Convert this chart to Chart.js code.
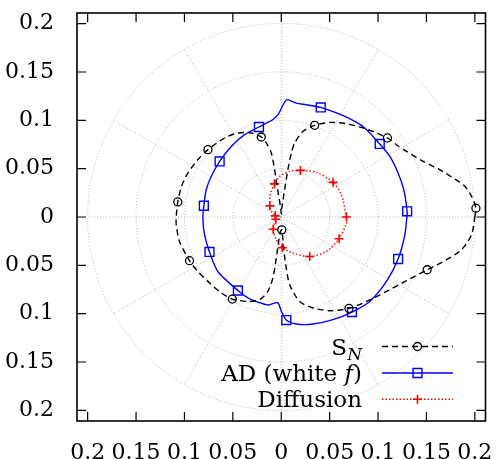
<!DOCTYPE html>
<html>
<head>
<meta charset="utf-8">
<script src="https://cdn.jsdelivr.net/npm/chart.js@4/dist/chart.umd.min.js"></script>
<style>
  html, body { margin: 0; padding: 0; background: #fff; }
  canvas { display: block; }
</style>
</head>
<body>
<canvas id="chart" width="500" height="459"></canvas>
<script>
// angular profiles: angle in degrees, radius in axis units
const snTheta  = [0, 2.6, 6.2, 9.5, 12.8, 16.6, 21.4, 27.7, 32.1, 36.7, 41.4, 47.5, 55.1, 62.9, 70.0, 75.8, 79.7, 81.1, 82.0, 83.0, 86.5, 90.0, 93.5, 97.4, 98.0, 98.8, 101.4, 104.0, 109.6, 117.3, 125.6, 137.4, 145.5, 154.8, 162.9, 171.7, 179.7, 184.2, 193.5, 205.5, 213.1, 221.3, 231.7, 239.2, 248.5, 255.4, 259.8, 262.2, 263.1, 263.9, 267.0, 272.6, 274.5, 275.3, 277.1, 282.3, 289.2, 297.3, 306.5, 315.2, 324.7, 333.0, 340.1, 345.5, 349.7, 354.7, 360];
const snRadius = [0.2000, 0.2013, 0.1978, 0.1923, 0.1821, 0.1710, 0.1575, 0.1461, 0.1406, 0.1368, 0.1313, 0.1250, 0.1177, 0.1099, 0.1009, 0.0913, 0.0778, 0.0670, 0.0494, 0.0284, 0.0090, 0.0030, 0.0090, 0.0285, 0.0494, 0.0670, 0.0781, 0.0853, 0.0922, 0.0978, 0.1005, 0.1029, 0.1046, 0.1067, 0.1078, 0.1080, 0.1085, 0.1088, 0.1081, 0.1050, 0.1029, 0.1009, 0.1001, 0.0988, 0.0939, 0.0884, 0.0782, 0.0637, 0.0427, 0.0254, 0.0150, 0.0133, 0.0322, 0.0495, 0.0706, 0.0894, 0.0997, 0.1091, 0.1176, 0.1240, 0.1332, 0.1452, 0.1603, 0.1764, 0.1893, 0.1975, 0.2000];
const snMarks  = [2.6, 36.7, 70.0, 104.0, 137.4, 171.7, 205.5, 239.2, 272.6, 306.5, 340.1];

const adTheta  = [0, 2.6, 12.6, 20.7, 29.2, 36.6, 46.9, 54.2, 62.1, 70.2, 77.4, 82.5, 87.2, 89.3, 91.8, 95.5, 99.0, 103.9, 114.0, 125.3, 137.9, 149.9, 160.0, 171.7, 180.7, 193.0, 206.0, 220.7, 239.5, 250.1, 260.4, 262.0, 267.6, 270.1, 272.8, 278.0, 286.5, 296.7, 306.6, 316.3, 328.5, 340.2, 351.8, 360];
const adRadius = [0.1298, 0.1302, 0.1297, 0.1290, 0.1285, 0.1267, 0.1262, 0.1241, 0.1218, 0.1205, 0.1190, 0.1188, 0.1215, 0.1150, 0.1059, 0.1005, 0.0984, 0.0959, 0.0932, 0.0894, 0.0858, 0.0836, 0.0825, 0.0808, 0.0810, 0.0813, 0.0825, 0.0864, 0.0882, 0.0910, 0.0920, 0.0919, 0.0887, 0.0977, 0.1067, 0.1118, 0.1155, 0.1189, 0.1225, 0.1264, 0.1275, 0.1283, 0.1290, 0.1298];
const adMarks  = [2.6, 36.6, 70.2, 103.9, 137.9, 171.7, 206.0, 239.5, 272.8, 306.6, 340.2];

const dfTheta  = [0, 20.4, 33.8, 51.8, 67.7, 79.6, 92.3, 101.5, 116.0, 135.7, 150.4, 169.0, 186.0, 203.0, 222.0, 237.0, 257.7, 272.0, 288.0, 305.8, 322.7, 339.4, 354.7, 360];
const dfRadius = [0.0673, 0.0663, 0.0644, 0.0587, 0.0521, 0.0480, 0.0420, 0.0350, 0.0257, 0.0165, 0.0118, 0.0063, 0.0060, 0.0061, 0.0092, 0.0152, 0.0240, 0.0318, 0.0392, 0.0503, 0.0587, 0.0638, 0.0676, 0.0673];
const dfMarks  = [0, 33.8, 67.7, 101.5, 135.7, 169.0, 203.0, 237.0, 272.0, 305.8, 339.4];

// polar grid and axis ticks
const gridRadii = [0.05, 0.1, 0.15, 0.2];
const spokeAngles = [0, 30, 60, 90, 120, 150, 180, 210, 240, 270, 300, 330];
const axisTicks = [-0.2, -0.15, -0.1, -0.05, 0, 0.05, 0.1, 0.15, 0.2];

const FONT = "'DejaVu Serif', serif";
Chart.defaults.font.family = FONT;
Chart.defaults.color = '#000';

function toXY(theta, radius) {
  return theta.map((t, i) => ({
    x: radius[i] * Math.cos(t * Math.PI / 180),
    y: radius[i] * Math.sin(t * Math.PI / 180)
  }));
}
function markSizes(theta, marks, size) {
  return theta.map(t => marks.includes(t) ? size : 0);
}
// fixed axis boxes, no extra room for overhanging labels
function fixBox(s, size) {
  if (s.isHorizontal()) s.height = size; else s.width = size;
  s.paddingTop = s.paddingBottom = s.paddingLeft = s.paddingRight = 0;
}

const polarGrid = {
  id: 'polarGrid',
  beforeDatasetsDraw(chart) {
    const {ctx, scales: {x, y}} = chart;
    const cx = x.getPixelForValue(0), cy = y.getPixelForValue(0);
    const k = x.getPixelForValue(1) - cx;
    const rMax = gridRadii[gridRadii.length - 1] * k;
    ctx.save();
    ctx.strokeStyle = '#b4b4b4';
    ctx.lineWidth = 1;
    ctx.setLineDash([1, 2]);
    gridRadii.forEach(r => {
      ctx.beginPath();
      ctx.arc(cx, cy, r * k, 0, Math.PI * 2);
      ctx.stroke();
    });
    spokeAngles.forEach(a => {
      const rad = a * Math.PI / 180;
      ctx.beginPath();
      ctx.moveTo(cx, cy);
      ctx.lineTo(cx + rMax * Math.cos(rad), cy - rMax * Math.sin(rad));
      ctx.stroke();
    });
    ctx.restore();
  }
};

const frameTicks = {
  id: 'frameTicks',
  afterDatasetsDraw(chart) {
    const {ctx, chartArea: a, scales: {x, y}} = chart;
    const len = 9;
    ctx.save();
    ctx.strokeStyle = '#000';
    ctx.lineWidth = 1.6;
    ctx.strokeRect(a.left, a.top, a.right - a.left, a.bottom - a.top);
    ctx.lineWidth = 1.2;
    ctx.beginPath();
    axisTicks.forEach(v => {
      const px = x.getPixelForValue(v), py = y.getPixelForValue(v);
      ctx.moveTo(px, a.bottom); ctx.lineTo(px, a.bottom - len);
      ctx.moveTo(px, a.top); ctx.lineTo(px, a.top + len);
      ctx.moveTo(a.left, py); ctx.lineTo(a.left + len, py);
      ctx.moveTo(a.right, py); ctx.lineTo(a.right - len, py);
    });
    ctx.stroke();
    ctx.restore();
  }
};

// legend in the lower right corner, with sub/italic parts in the labels
const keyBox = {
  id: 'keyBox',
  afterDraw(chart) {
    const {ctx} = chart;
    const textRight = 362, x0 = 382, x1 = 453, xm = 417.5;
    const rows = [346.5, 373, 399.3];
    chart.data.datasets.forEach((ds, i) => {
      const yy = rows[i];
      ctx.save();
      let xr = textRight;
      const parts = ds.labelParts.slice().reverse();
      ctx.fillStyle = '#000';
      ctx.textAlign = 'right';
      ctx.textBaseline = 'alphabetic';
      parts.forEach(p => {
        const size = p.sub ? 17 : 23;
        ctx.font = (p.italic ? 'italic ' : '') + size + 'px ' + FONT;
        ctx.fillText(p.t, xr, yy + 8 + (p.sub ? 5 : 0));
        xr -= ctx.measureText(p.t).width;
      });
      // sample line and marker
      ctx.strokeStyle = ds.borderColor;
      ctx.fillStyle = 'rgba(0,0,0,0)';
      ctx.lineWidth = ds.borderWidth;
      ctx.setLineDash(ds.borderDash || []);
      ctx.beginPath();
      ctx.moveTo(x0, yy);
      ctx.lineTo(x1, yy);
      ctx.stroke();
      ctx.setLineDash([]);
      ctx.lineWidth = ds.pointBorderWidth;
      Chart.helpers.drawPoint(ctx, {
        pointStyle: ds.pointStyle,
        radius: ds.keyRadius,
        rotation: 0,
        borderWidth: ds.pointBorderWidth
      }, xm, yy);
      ctx.restore();
    });
  }
};

new Chart(document.getElementById('chart'), {
  type: 'scatter',
  data: {
    datasets: [
      {
        label: 'S_N',
        labelParts: [{t: 'S'}, {t: 'N', italic: true, sub: true}],
        data: toXY(snTheta, snRadius),
        showLine: true,
        borderColor: '#000',
        borderWidth: 1.4,
        borderDash: [6, 4],
        tension: 0.25,
        pointStyle: 'circle',
        pointRadius: markSizes(snTheta, snMarks, 4),
        keyRadius: 4,
        pointBorderWidth: 1.3,
        pointBorderColor: '#000',
        pointBackgroundColor: 'rgba(0,0,0,0)'
      },
      {
        label: 'AD (white f)',
        labelParts: [{t: 'AD (white '}, {t: 'f', italic: true}, {t: ')'}],
        data: toXY(adTheta, adRadius),
        showLine: true,
        borderColor: '#0000ff',
        borderWidth: 1.4,
        tension: 0.25,
        pointStyle: 'rect',
        pointRadius: markSizes(adTheta, adMarks, 6.3),
        keyRadius: 6.3,
        pointBorderWidth: 1.4,
        pointBorderColor: '#0000ff',
        pointBackgroundColor: 'rgba(0,0,0,0)'
      },
      {
        label: 'Diffusion',
        labelParts: [{t: 'Diffusion'}],
        data: toXY(dfTheta, dfRadius),
        showLine: true,
        borderColor: '#ff0000',
        borderWidth: 1.4,
        borderDash: [1.5, 2],
        tension: 0.3,
        pointStyle: 'cross',
        pointRadius: markSizes(dfTheta, dfMarks, 4.5),
        keyRadius: 4.5,
        pointBorderWidth: 1.6,
        pointBorderColor: '#ff0000',
        pointBackgroundColor: 'rgba(0,0,0,0)'
      }
    ]
  },
  options: {
    responsive: false,
    animation: false,
    events: [],
    layout: { padding: { top: 13, right: 14.5, left: 0, bottom: 0 } },
    plugins: { legend: { display: false }, tooltip: { enabled: false } },
    scales: {
      x: {
        type: 'linear',
        min: -0.211,
        max: 0.211,
        grid: { display: false },
        border: { display: false },
        afterFit: s => fixBox(s, 38),
        afterBuildTicks: s => { s.ticks = axisTicks.map(v => ({value: v})); },
        ticks: {
          font: { size: 22 },
          padding: 11,
          maxRotation: 0,
          autoSkip: false,
          callback: v => String(+Math.abs(v).toFixed(2))
        }
      },
      y: {
        type: 'linear',
        min: -0.211,
        max: 0.211,
        grid: { display: false },
        border: { display: false },
        afterFit: s => fixBox(s, 77),
        afterBuildTicks: s => { s.ticks = axisTicks.map(v => ({value: v})); },
        ticks: {
          font: { size: 22 },
          padding: 15,
          autoSkip: false,
          callback: v => String(+Math.abs(v).toFixed(2))
        }
      }
    }
  },
  plugins: [polarGrid, frameTicks, keyBox]
});
</script>
</body>
</html>
